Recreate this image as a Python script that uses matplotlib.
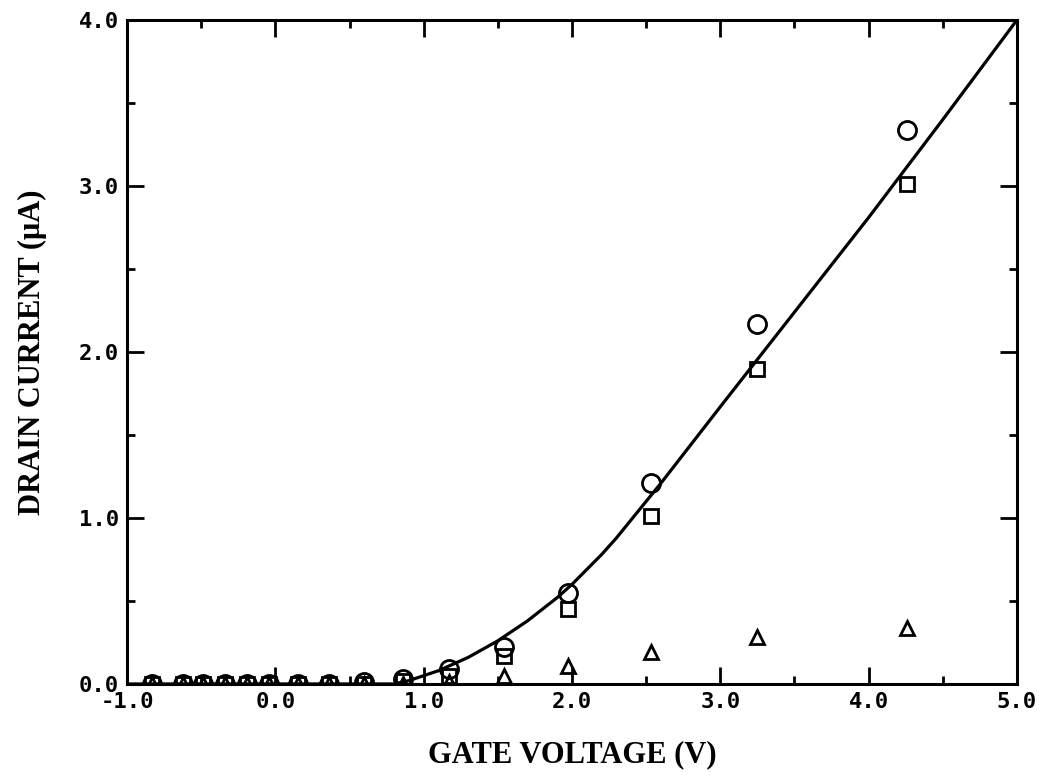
import matplotlib.pyplot as plt
from matplotlib.ticker import MultipleLocator

# gate voltage of each measured point (V)
vg = [-0.83, -0.62, -0.49, -0.34, -0.19, -0.04, 0.15, 0.36, 0.60, 0.86,
      1.17, 1.54, 1.97, 2.53, 3.25, 4.26]

# drain current (uA) for the three measured sets
id_circle = [0, 0, 0, 0, 0, 0, 0, 0, 0.01, 0.03, 0.09, 0.22, 0.55, 1.21, 2.17, 3.34]
id_square = [0, 0, 0, 0, 0, 0, 0, 0, 0.0, 0.02, 0.05, 0.17, 0.45, 1.01, 1.90, 3.01]
id_triangle = [0, 0, 0, 0, 0, 0, 0, 0, 0, 0, 0.01, 0.05, 0.11, 0.19, 0.28, 0.34]

# model curve
vg_fit = [-1.0, 0.8, 0.9, 1.0, 1.1, 1.2, 1.3, 1.4, 1.5, 1.6, 1.7, 1.8, 1.9,
          2.0, 2.1, 2.2, 2.3, 2.4, 2.6, 3.0, 3.5, 4.0, 4.5, 5.0]
id_fit = [0.0, 0.0, 0.02, 0.05, 0.08, 0.12, 0.16, 0.21, 0.26, 0.32, 0.38,
          0.45, 0.52, 0.60, 0.69, 0.78, 0.88, 0.99, 1.21,
          1.67, 2.24, 2.81, 3.40, 4.0]

fig = plt.figure(figsize=(10.56, 7.76), dpi=100)
ax = fig.add_axes([0.1203, 0.1186, 0.8427, 0.8556])

ax.plot(vg_fit, id_fit, color='black', lw=2.3, zorder=2)
ax.plot(vg, id_circle, 'o', mfc='none', mec='black', ms=13, mew=2.0, zorder=3)
ax.plot(vg, id_square, 's', mfc='none', mec='black', ms=9.5, mew=2.0, zorder=3)
ax.plot(vg, id_triangle, '^', mfc='none', mec='black', ms=10, mew=2.0, zorder=3)

ax.set_xlim(-1.0, 5.0)
ax.set_ylim(0.0, 4.0)
ax.xaxis.set_major_locator(MultipleLocator(1.0))
ax.xaxis.set_minor_locator(MultipleLocator(0.5))
ax.yaxis.set_major_locator(MultipleLocator(1.0))
ax.yaxis.set_minor_locator(MultipleLocator(0.5))
ax.xaxis.set_major_formatter(lambda v, p: '%.1f' % v)
ax.yaxis.set_major_formatter(lambda v, p: '%.1f' % v)

ax.tick_params(which='both', direction='in', top=True, right=True, width=2.0)
ax.tick_params(which='major', length=12, pad=6)
ax.tick_params(which='minor', length=6)
for lab in ax.get_xticklabels() + ax.get_yticklabels():
    lab.set_family('DejaVu Sans Mono')
    lab.set_weight('bold')
    lab.set_fontsize(16)

for s in ax.spines.values():
    s.set_linewidth(2.2)

ax.set_xlabel('GATE VOLTAGE (V)', family='Liberation Serif', weight='bold',
              fontsize=22)
ax.set_ylabel('DRAIN CURRENT (\u03bcA)', family='Liberation Serif', weight='bold',
              fontsize=22)
ax.xaxis.set_label_coords(0.5, -0.085)
ax.yaxis.set_label_coords(-0.09, 0.5)

fig.savefig('out.png', dpi=100)
